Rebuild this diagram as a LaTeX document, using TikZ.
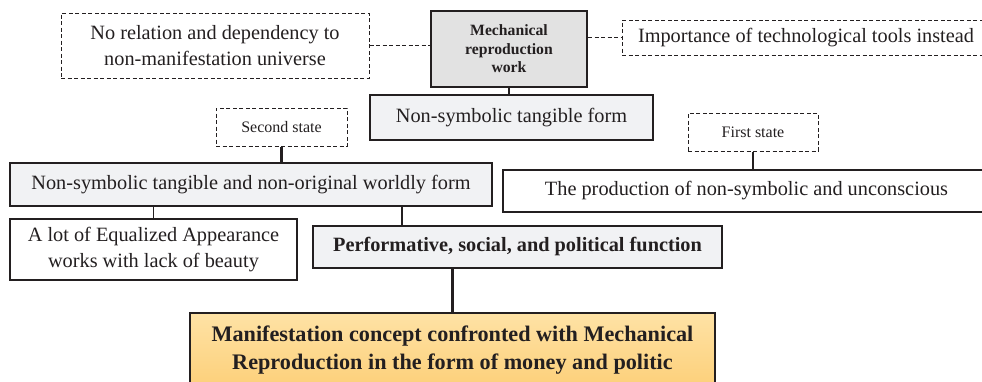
\documentclass[tikz,border=0pt]{standalone}
\usepackage{fontspec}
\setmainfont{Liberation Serif}
\usetikzlibrary{calc}
\definecolor{inkgray}{RGB}{35,31,32}
\definecolor{boxgray}{RGB}{226,226,226}
\definecolor{lightgray}{RGB}{241,242,244}
\definecolor{orangetop}{RGB}{254,226,165}
\definecolor{orangebot}{RGB}{253,208,122}

\begin{document}
\begin{tikzpicture}[x=1pt, y=-1pt, draw=inkgray, text=inkgray,
    every node/.style={inner sep=0pt, align=center, line width=1.2pt},
    dashbox/.style={draw, dashed, line width=1pt, dash pattern=on 4pt off 2.5pt},
    plainbox/.style={draw, fill=white},
    greybox/.style={draw, fill=lightgray},
    bigfont/.style={font=\fontsize{20.3}{26}\selectfont},
    smallfont/.style={font=\fontsize{16}{18}\selectfont}]
        \useasboundingbox (0,0) rectangle (982,381);
        \clip (0,0) rectangle (982,381);
        % top row
        \node[dashbox, bigfont, minimum width=308pt, minimum height=65pt] (norel) at (215,45.5)
          {No relation and dependency to\\non-manifestation universe};
        \node[draw, fill=boxgray, line width=2.2pt, minimum width=156pt, minimum height=76pt,
          font=\bfseries\fontsize{15.7}{18.5}\selectfont] (mech) at (509,49)
          {Mechanical\\reproduction\\work};
        \node[dashbox, bigfont, minimum width=368pt, minimum height=35pt] (imp) at (806,37.5)
          {Importance of technological tools instead};
        \node[greybox, bigfont, minimum width=283pt, minimum height=45pt] (ntf) at (511.5,117.5)
          {Non-symbolic tangible form};
        % states
        \node[dashbox, smallfont, minimum width=131pt, minimum height=38pt] (second) at (281.5,127)
          {Second state};
        \node[dashbox, smallfont, minimum width=130pt, minimum height=38pt] (first) at (753,132)
          {First state};
        % middle row
        \node[greybox, bigfont, minimum width=482pt, minimum height=43pt] (worldly) at (251,184.5)
          {Non-symbolic tangible and non-original worldly form};
        \node[plainbox, bigfont, minimum width=487pt, minimum height=42pt] (prod) at (746.5,191)
          {The production of non-symbolic and unconscious};
        \node[plainbox, bigfont, minimum width=287pt, minimum height=61pt] (equal) at (153.5,249.5)
          {A lot of Equalized Appearance\\works with lack of beauty};
        \node[greybox, line width=2.2pt, minimum width=409pt, minimum height=42pt,
          font=\bfseries\fontsize{20.3}{24}\selectfont] (perf) at (517.5,247)
          {Performative, social, and political function};
        \node[draw, line width=2.5pt, top color=orangetop, bottom color=orangebot,
          minimum width=525pt, minimum height=74pt,
          font=\bfseries\fontsize{22.2}{27.5}\selectfont] (manif) at (452.5,350)
          {Manifestation concept confronted with Mechanical\\Reproduction in the form of money and politic};
        % connectors
        \draw[dashed, line width=1pt, dash pattern=on 4pt off 2.5pt] (norel.east) -- (norel.east -| mech.west);
        \draw[dashed, line width=1pt, dash pattern=on 4pt off 2.5pt] (mech.east |- imp.west) -- (imp.west);
        \draw[line width=1.8pt] (mech.south) -- (mech.south |- ntf.north);
        \draw[line width=2.2pt] (second.south) -- (second.south |- worldly.north);
        \draw[line width=1.2pt] (first.south) -- (first.south |- prod.north);
        \draw[line width=1.2pt] (equal.north) -- (equal.north |- worldly.south);
        \draw[line width=1.2pt] ([xshift=90pt]perf.north west) -- ([xshift=90pt]perf.north west |- worldly.south);
        \draw[line width=2.5pt] (manif.north) -- (manif.north |- perf.south);
      \end{tikzpicture}
\end{document}
